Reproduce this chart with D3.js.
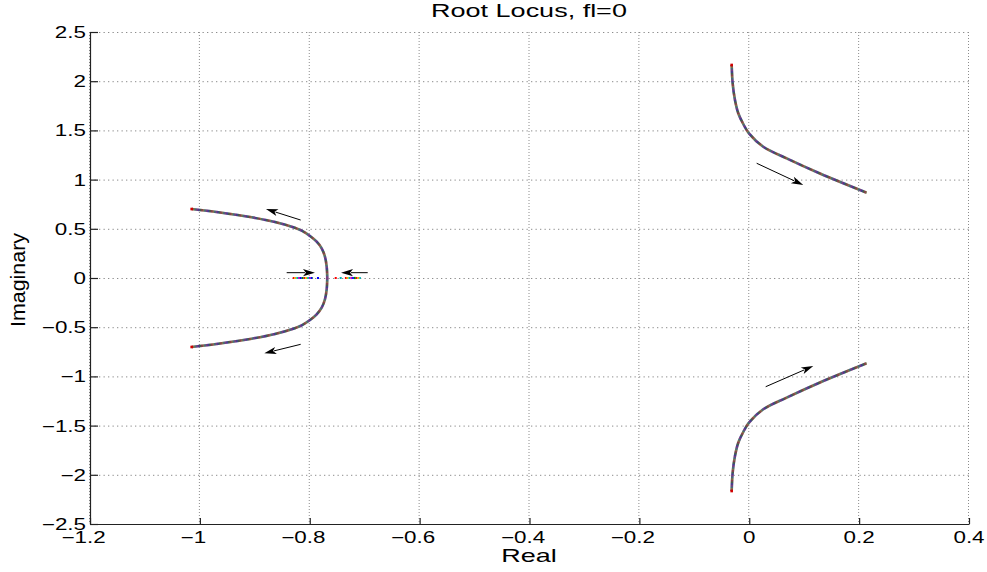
<!DOCTYPE html>
<html>
<head>
<meta charset="utf-8">
<script src="https://cdn.jsdelivr.net/npm/d3@7"></script>
<style>
  html, body { margin: 0; padding: 0; background: #fff; }
  svg { display: block; }
  text { font-family: "Liberation Sans", Arial, Helvetica, sans-serif; fill: #000; }
</style>
</head>
<body>
<svg id="chart" width="987" height="572"></svg>
<script>
// ---- data ----
const titleText = "Root Locus, fl=0";
const xLabelText = "Real";
const yLabelText = "Imaginary";
const xTicks = [-1.2, -1, -0.8, -0.6, -0.4, -0.2, 0, 0.2, 0.4];
const yTicks = [-2.5, -2, -1.5, -1, -0.5, 0, 0.5, 1, 1.5, 2, 2.5];

// complex branches leaving the breakaway point (real, imaginary)
const leftUpperRe = [-1.0149, -0.9665, -0.9057, -0.8633, -0.8329, -0.8147, -0.7996, -0.7874, -0.7783, -0.7723, -0.7692, -0.7681];
const leftUpperIm = [0.701, 0.668, 0.617, 0.569, 0.521, 0.481, 0.427, 0.369, 0.302, 0.216, 0.115, 0.0];
const leftLowerRe = [-1.0149, -0.9665, -0.9057, -0.8633, -0.8329, -0.8147, -0.7996, -0.7874, -0.7783, -0.7723, -0.7692, -0.7681];
const leftLowerIm = [-0.701, -0.668, -0.617, -0.569, -0.521, -0.481, -0.427, -0.369, -0.302, -0.216, -0.115, 0.0];

// right-hand pair of branches
const rightUpperRe = [-0.0320, -0.0302, -0.0260, -0.0200, -0.0109, -0.0005, 0.0255, 0.0681, 0.1287, 0.2137];
const rightUpperIm = [2.165, 1.979, 1.809, 1.674, 1.565, 1.470, 1.334, 1.216, 1.062, 0.867];
const rightLowerRe = [-0.0320, -0.0302, -0.0260, -0.0200, -0.0109, -0.0005, 0.0255, 0.0681, 0.1287, 0.2137];
const rightLowerIm = [-2.165, -1.979, -1.809, -1.674, -1.565, -1.470, -1.334, -1.216, -1.062, -0.867];

// real-axis segments [from, to] and isolated real roots
const realSegFrom = [-0.831, -0.736];
const realSegTo = [-0.794, -0.707];
const realDots = [-0.785, -0.7527, -0.7437];

// direction arrows: start and tip (real, imaginary)
const arrowStartRe = [-0.8165, -0.8165, -0.842, -0.6945, 0.0135, 0.0299];
const arrowStartIm = [0.589, -0.674, 0.054, 0.054, 1.166, -1.105];
const arrowTipRe = [-0.8797, -0.8827, -0.7905, -0.7431, 0.0983, 0.1165];
const arrowTipIm = [0.701, -0.765, 0.054, 0.054, 0.945, -0.894];

// marker colour cycle
const markerColors = ["#ff0000", "#e0c000", "#00b0b0", "#c000c0", "#0000ff", "#008000"];

// ---- layout ----
const svg = d3.select("#chart");
const plotLeft = 90, plotRight = 969, plotTop = 32, plotBottom = 524;
const sx = 1.4; // horizontal stretch of the lettering

const x = d3.scaleLinear().domain([-1.2, 0.4]).range([plotLeft, plotRight]);
const y = d3.scaleLinear().domain([-2.5, 2.5]).range([plotBottom, plotTop]);

// grid
const grid = svg.append("g");
grid.selectAll("line.h").data(yTicks).join("line")
  .attr("x1", plotLeft).attr("x2", plotRight)
  .attr("y1", d => y(d) + 0.5).attr("y2", d => y(d) + 0.5)
  .attr("stroke", "#8c8c8c").attr("stroke-width", 1)
  .attr("stroke-dasharray", "1.3,3.2");
grid.selectAll("line.v").data(xTicks).join("line")
  .attr("y1", plotTop).attr("y2", plotBottom)
  .attr("x1", d => x(d) - 0.5).attr("x2", d => x(d) - 0.5)
  .attr("stroke", "#8c8c8c").attr("stroke-width", 1)
  .attr("stroke-dasharray", "1,2");

// axes (left and bottom, inward ticks)
const xAxis = d3.axisBottom(x).tickValues(xTicks).tickSizeInner(-6).tickSizeOuter(0).tickFormat("");
const yAxis = d3.axisLeft(y).tickValues(yTicks).tickSizeInner(-8).tickSizeOuter(0).tickFormat("");
svg.append("g").attr("transform", `translate(0,${plotBottom})`).call(xAxis)
  .call(g => g.selectAll("line,path").attr("stroke", "#222").attr("stroke-width", 1.2));
svg.append("g").attr("transform", `translate(${plotLeft},0)`).call(yAxis)
  .call(g => g.selectAll("line,path").attr("stroke", "#222").attr("stroke-width", 1.2));

function fmt(v) {
  const s = d3.format("")(v);
  return s.replace("-", "\u2212");
}

// x tick labels: numeric part centred on the tick
svg.append("g").selectAll("text").data(xTicks).join("text")
  .attr("transform", d => `translate(${x(d) - (d < 0 ? 6.5 : 0)},543) scale(${sx},1)`)
  .attr("text-anchor", "middle")
  .attr("font-size", 16)
  .text(fmt);

// y tick labels
svg.append("g").selectAll("text").data(yTicks).join("text")
  .attr("transform", d => `translate(86,${y(d) + 6}) scale(${sx},1)`)
  .attr("text-anchor", "end")
  .attr("font-size", 16)
  .text(fmt);

// title and axis labels
svg.append("text")
  .attr("transform", `translate(529,17) scale(1.5,1)`)
  .attr("text-anchor", "middle").attr("font-size", 18)
  .text(titleText);
svg.append("text")
  .attr("transform", `translate(529,562) scale(1.5,1)`)
  .attr("text-anchor", "middle").attr("font-size", 18)
  .text(xLabelText);
svg.append("text")
  .attr("transform", `translate(25,280) rotate(-90) scale(1.19,1.16)`)
  .attr("text-anchor", "middle").attr("font-size", 18)
  .text(yLabelText);

// ---- locus branches ----
const line = d3.line().x(d => x(d[0])).y(d => y(d[1])).curve(d3.curveCatmullRom.alpha(0.5));
const branches = [
  d3.zip(leftUpperRe, leftUpperIm),
  d3.zip(leftLowerRe, leftLowerIm),
  d3.zip(rightUpperRe, rightUpperIm),
  d3.zip(rightLowerRe, rightLowerIm)
];

const plot = svg.append("g");
function colourfulStroke(sel, width, baseColour, overlayOpacity) {
  // base stroke followed by a cycle of short coloured dashes
  sel.append("path").attr("fill", "none").attr("stroke", baseColour)
    .attr("stroke-width", width).attr("stroke-linecap", "butt");
  const period = markerColors.length * 1.6;
  markerColors.forEach((c, i) => {
    sel.append("path").attr("fill", "none").attr("stroke", c)
      .attr("stroke-width", width).attr("stroke-opacity", overlayOpacity)
      .attr("stroke-dasharray", `1.6,${period - 1.6}`)
      .attr("stroke-dashoffset", -i * 1.6);
  });
}

branches.forEach(b => {
  const g = plot.append("g");
  colourfulStroke(g, 2.6, "#5e5468", 0.28);
  g.selectAll("path").attr("d", line(b));
  // red end marker
  const end = b[0];
  g.append("rect").attr("x", x(end[0]) - 1.3).attr("y", y(end[1]) - 1.3)
    .attr("width", 2.6).attr("height", 2.6).attr("fill", "#d00000");
});

// real-axis segments
d3.zip(realSegFrom, realSegTo).forEach(([a, b]) => {
  const g = plot.append("g");
  const d = `M${x(a)},${y(0)}L${x(b)},${y(0)}`;
  const period = markerColors.length * 1.8;
  markerColors.forEach((c, i) => {
    g.append("path").attr("d", d).attr("fill", "none").attr("stroke", c)
      .attr("stroke-width", 2.2)
      .attr("stroke-dasharray", `1.8,${period - 1.8}`)
      .attr("stroke-dashoffset", -i * 1.8);
  });
});
plot.selectAll("rect.rd").data(realDots).join("rect")
  .attr("x", d => x(d) - 1).attr("y", y(0) - 1)
  .attr("width", 2).attr("height", 2)
  .attr("fill", (d, i) => markerColors[(i * 2 + 4) % markerColors.length]);

// ---- direction arrows ----
const arrows = d3.range(arrowStartRe.length).map(i => ({
  x0: x(arrowStartRe[i]), y0: y(arrowStartIm[i]),
  x1: x(arrowTipRe[i]), y1: y(arrowTipIm[i])
}));
const ag = svg.append("g");
arrows.forEach(a => {
  const dx = a.x1 - a.x0, dy = a.y1 - a.y0;
  const len = Math.hypot(dx, dy);
  const ux = dx / len, uy = dy / len;
  const hl = 12, hw = 3.6;
  const bx = a.x1 - ux * hl, by = a.y1 - uy * hl;
  ag.append("line")
    .attr("x1", a.x0).attr("y1", a.y0).attr("x2", bx + ux * 2).attr("y2", by + uy * 2)
    .attr("stroke", "#000").attr("stroke-width", 1);
  ag.append("path")
    .attr("d", `M${a.x1},${a.y1}L${bx - uy * hw},${by + ux * hw}L${bx + ux * 3},${by + uy * 3}L${bx + uy * hw},${by - ux * hw}Z`)
    .attr("fill", "#000");
});
</script>
</body>
</html>
